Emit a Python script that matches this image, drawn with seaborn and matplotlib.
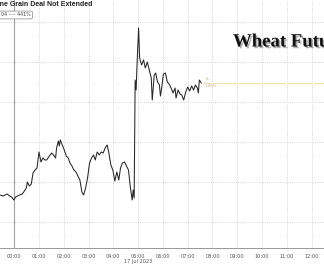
import matplotlib
matplotlib.use("Agg")
import matplotlib.pyplot as plt
import matplotlib.patheffects as pe
import seaborn as sns
import pandas as pd

# ---- data (hours after 00:00 on 17 Jul 2023, price level) ----
hours = [-0.57, -0.45, -0.29, -0.18, -0.10, -0.02, 0.06, 0.22, 0.33, 0.41,
         0.49, 0.53, 0.61, 0.69, 0.76, 0.84, 0.92, 1.00, 1.08, 1.16,
         1.24, 1.31, 1.39, 1.51, 1.59, 1.67, 1.71, 1.78, 1.82, 1.86,
         1.94, 2.02, 2.10, 2.18, 2.25, 2.33, 2.41, 2.49, 2.57, 2.65,
         2.73, 2.80, 2.88, 2.96, 3.04, 3.12, 3.20, 3.27, 3.35, 3.43,
         3.51, 3.59, 3.67, 3.75, 3.82, 3.90, 3.98, 4.06, 4.14, 4.22,
         4.29, 4.37, 4.45, 4.53, 4.61, 4.69, 4.76, 4.80, 4.84, 4.88,
         4.92, 4.96, 5.02, 5.06, 5.14, 5.22, 5.29, 5.37, 5.45, 5.53,
         5.57, 5.65, 5.71, 5.78, 5.86, 5.90, 5.94, 6.02, 6.10, 6.18,
         6.25, 6.33, 6.41, 6.49, 6.53, 6.61, 6.69, 6.76, 6.84, 6.92,
         7.00, 7.08, 7.16, 7.24, 7.31, 7.39, 7.43, 7.47, 7.55]
prices = [656.75, 656.5, 657.0, 656.5, 656.25, 655.5, 656.25, 656.75, 657.0, 657.75,
          658.5, 660.0, 659.0, 659.5, 662.25, 663.0, 663.5, 667.5, 665.0, 666.0,
          665.5, 665.5, 666.25, 667.25, 666.75, 666.0, 668.5, 670.25, 669.0, 670.5,
          669.25, 668.0, 666.5, 666.0, 664.75, 664.0, 663.0, 662.5, 661.5, 660.5,
          657.5, 656.75, 658.5, 661.0, 664.75, 666.0, 666.75, 665.5, 667.5, 666.75,
          667.5, 667.25, 668.5, 669.25, 667.25, 664.25, 663.0, 660.25, 662.5, 660.5,
          663.5, 664.75, 665.0, 664.0, 663.0, 658.5, 655.5, 658.0, 656.0, 685.5,
          683.0, 690.0, 698.5, 691.0, 689.25, 690.5, 688.5, 690.0, 688.0, 686.0,
          680.5, 686.75, 687.25, 685.0, 684.25, 681.5, 683.0, 687.0, 687.25, 685.0,
          684.5, 683.5, 682.25, 683.5, 681.0, 683.0, 682.0, 681.75, 680.5, 682.5,
          683.75, 682.75, 684.0, 683.0, 684.25, 683.5, 682.25, 685.5, 684.75]
last_price = 684.75
tick_hours = list(range(0, 13))
tick_labels = [f"{h:02d}:00" for h in tick_hours]
date_label = "17 Jul 2023"
title = "Ukraine Grain Deal Not Extended"
overlay = "Wheat Futures"

df = pd.DataFrame({"hour": hours, "price": prices})

sns.set_style("white")
plt.rcParams["font.family"] = ["DejaVu Sans"]

W, H = 324, 268
fig = plt.figure(figsize=(W / 100, H / 100), dpi=100)
fig.patch.set_facecolor("white")
ax = fig.add_axes([0, 20 / H, 1, 248 / H])

x0 = -14.5 / 25.3
x1 = (324 - 14.5) / 25.3

# grid
for h in tick_hours[1:]:
    ax.axvline(h, color="#c8c8c8", lw=0.6, ls=(0, (1, 1.5)), zorder=0)
for v in range(650, 701, 10):
    ax.axhline(v, color="#c8c8c8", lw=0.6, ls=(0, (1, 1.5)), zorder=0)
ax.axvline(0, color="#a0a0a0", lw=0.8, zorder=0)

sns.lineplot(data=df, x="hour", y="price", ax=ax, color="#262626", lw=0.75, zorder=3)

# last price line
ax.plot([hours[-1], x1 + 1], [last_price, last_price], color="#efe3b8", lw=0.8, zorder=2)
ax.text(hours[-1] + 0.12, last_price + 0.5, "+L", fontsize=2.8, color="#c9b37a", va="bottom")
ax.text(hours[-1] + 0.12, last_price - 0.2, "1.06%", fontsize=2.8, color="#c9b37a", va="top")

ax.set_xlim(x0, x1)
ax.set_ylim(643.5, 705.5)

ax.set_xticks(tick_hours)
ax.set_xticklabels(tick_labels, fontsize=3.6, color="#555555")
ax.set_xticks([h + 0.5 for h in range(-1, 13)], minor=True)
ax.tick_params(axis="x", which="major", length=2, width=0.5, color="#888888", pad=2)
ax.tick_params(axis="x", which="minor", length=1.2, width=0.5, color="#888888")
ax.set_yticks([])
ax.set_xlabel("")
ax.set_ylabel("")
for s in ["top", "right", "left"]:
    ax.spines[s].set_visible(False)
ax.spines["bottom"].set_color("#888888")
ax.spines["bottom"].set_linewidth(0.6)

ax.text(5, 643.5 - 3.3, date_label, fontsize=3.6, color="#555555", ha="center", va="center")

fig.text(92 / W, 1 - 5 / H, title, fontsize=5.0, fontweight="bold", color="#222222",
         family=["Liberation Sans Narrow", "Liberation Sans", "DejaVu Sans"],
         ha="right", va="center")
fig.text(31 / W, 1 - 15 / H, "W U3 04 ---- 441%", fontsize=3.4, color="#444444",
         ha="right", va="center",
         bbox=dict(boxstyle="round,pad=0.3", fc="white", ec="#888888", lw=0.5))

fig.text(233 / W, 1 - 42 / H, overlay, fontsize=13.5, fontweight="bold",
         family="Liberation Serif", color="#111111", ha="left", va="center",
         path_effects=[pe.withSimplePatchShadow(offset=(1.2, -1.2), shadow_rgbFace="#777777", alpha=0.6)])

fig.savefig("out.png", dpi=100)
